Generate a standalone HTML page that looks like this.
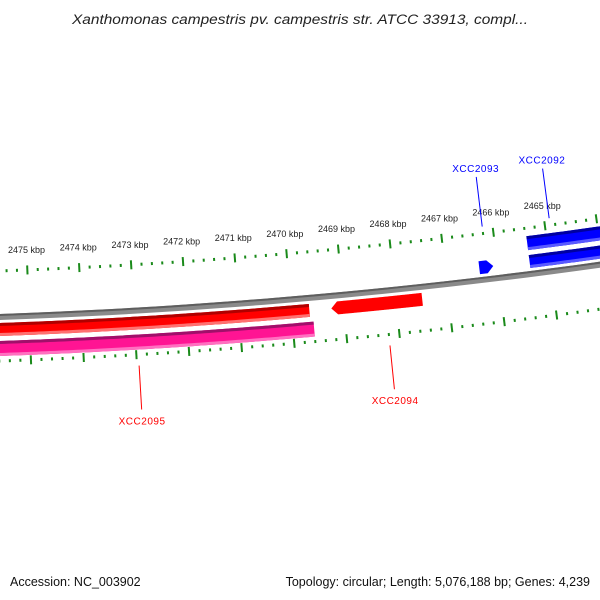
<!DOCTYPE html>
<html><head><meta charset="utf-8"><style>
html,body{margin:0;padding:0;background:#fff;overflow:hidden;}
svg{display:block;font-family:"Liberation Sans","DejaVu Sans",sans-serif;}
</style></head><body>
<svg id="map" width="600" height="600" viewBox="0 0 600 600">
<rect x="0" y="0" width="600" height="600" fill="#fff"/>
<text x="300" y="24" text-anchor="middle" font-size="13.5" font-style="italic" fill="#222" textLength="456" lengthAdjust="spacingAndGlyphs">Xanthomonas campestris pv. campestris str. ATCC 33913, compl...</text>
<g id="g-ticks"></g>
<g id="g-backbone"></g>
<g id="g-features"></g>
<g id="g-labels"></g>
<text x="10" y="586" font-size="12.5" fill="#111">Accession: NC_003902</text>
<text x="590" y="586" text-anchor="end" font-size="12.5" fill="#111">Topology: circular; Length: 5,076,188 bp; Genes: 4,239</text>
</svg>
<script>
// data (kbp)
const majorTicks = [2460,2461,2462,2463,2464,2465,2466,2467,2468,2469,2470,2471,2472,2473,2474,2475,2476,2477,2478];
const tickLabels = ["2465 kbp","2466 kbp","2467 kbp","2468 kbp","2469 kbp","2470 kbp","2471 kbp","2472 kbp","2473 kbp","2474 kbp","2475 kbp"];
const tickLabelPos = [2465,2466,2467,2468,2469,2470,2471,2472,2473,2474,2475];
const featNames = ["XCC2095","XCC2095b","XCC2094","XCC2093","XCC2092a","XCC2092b"];
const featStart = [2469.66,2469.60,2467.50,2466.08,2455.0,2455.0];
const featEnd = [2480.0,2480.0,2469.24,2466.35,2465.38,2465.38];
const featStrand = [-1,-1,-1,1,1,1];
const featTrack = [0,1,0,0,0,1];
const labelNames = ["XCC2095","XCC2094","XCC2093","XCC2092"];
const labelPos = [2472.96,2468.2,2466.2,2464.9];
const labelStrand = [-1,-1,1,1];

const NS="http://www.w3.org/2000/svg";
const CX=-202, R=5794, CY=320.5-R;
function theta(k){return 0.03991+(2475-k)*0.00904;}
// d = offset from backbone, positive = up on screen
function pt(d,k){const t=theta(k);const rho=R-d;return [CX+rho*Math.sin(t), CY+rho*Math.cos(t)];}
function el(tag,attrs,parent){const e=document.createElementNS(NS,tag);for(const a in attrs)e.setAttribute(a,attrs[a]);parent.appendChild(e);return e;}
function arcPts(d,ka,kb){const n=120,out=[];for(let i=0;i<=n;i++){out.push(pt(d,ka+(kb-ka)*i/n));}return out;}
function poly(pts){return 'M'+pts.map(p=>p[0].toFixed(2)+','+p[1].toFixed(2)).join(' L')+' Z';}
function arcBand(k1,k2,d1,d2){return poly(arcPts(d2,k1,k2).concat(arcPts(d1,k2,k1)));}
const gT=document.getElementById('g-ticks'),gB=document.getElementById('g-backbone'),gF=document.getElementById('g-features'),gL=document.getElementById('g-labels');

// backbone
let bb=el('path',{d:arcBand(2440,2500,-3,3),fill:'#8a8a8a'},gB);


let bbt=el('path',{d:arcBand(2440,2500,1,3),fill:'#5e5e5e'},gB);



// ticks
const rings=[46,-44];
rings.forEach((rr)=>{
  for(let i=0;i<majorTicks.length;i++){
    for(let j=0;j<5;j++){
      const k=majorTicks[i]+j/5;
      const len=j===0?9:3;
      const a=pt(rr-len/2,k),b=pt(rr+len/2,k);
      const ln=el('line',{x1:a[0],y1:a[1],x2:b[0],y2:b[1],stroke:'#1a8a1a','stroke-width':2},gT);
      
      
    }
  }
});
tickLabels.forEach((s,i)=>{
  const q=pt(66,tickLabelPos[i]);
  const t=el('text',{x:q[0],y:q[1]+3,'text-anchor':'middle','font-size':'9',fill:'#222'},gT);
  t.textContent=s;
  
  
});

// features
const trackR={'1_0':[6,19],'1_1':[24,38],'-1_0':[-19,-6],'-1_1':[-39,-24]};
const colors={'-1_0':['#ff0000','#b00000','#ff7070'],'-1_1':['#ff1493','#a0106a','#ff70c0'],'1_0':['#0000ff','#0000a0','#5a5aff'],'1_1':['#0000ff','#0000a0','#5a5aff']};
featNames.forEach((n,i)=>{
  const key=featStrand[i]+'_'+featTrack[i];
  const [d1,d2]=trackR[key];const c=colors[key];
  const k1=featStart[i],k2=featEnd[i];
  const isArrow=(k2-k1)<8;
  const g=el('g',{},gF);
  
  
  let d;
  if(isArrow){
    const head=Math.min(0.12,(k2-k1)*0.5);
    const dm=(d1+d2)/2;
    if(featStrand[i]<0){
      const tip=pt(dm,k2);
      d=poly([tip].concat(arcPts(d2,k2-head,k1)).concat(arcPts(d1,k1,k2-head)));
    } else {
      const tip=pt(dm,k1);
      d=poly(arcPts(d2,k2,k1+head).concat([tip]).concat(arcPts(d1,k1+head,k2)));
    }
  } else d=arcBand(k1,k2,d1,d2);
  const m=el('path',{d:d,fill:c[0]},g);
  
  
  if(!isArrow){
    const top=el('path',{d:arcBand(k1,k2,d2-3,d2),fill:c[1]},g);
    
    
    const bot=el('path',{d:arcBand(k1,k2,d1,d1+3),fill:c[2]},g);
    
    
  }
});

// labels
labelNames.forEach((n,i)=>{
  const s=labelStrand[i];
  const col=s>0?'#0000ff':'#ff0000';
  const a=pt(s>0?53:-55,labelPos[i]),b=pt(s>0?103:-99,labelPos[i]);
  const ln=el('line',{x1:a[0],y1:a[1],x2:b[0],y2:b[1],stroke:col,'stroke-width':1},gL);
  
  
  const q=pt(s>0?108:-106,labelPos[i]);
  const t=el('text',{x:q[0],y:q[1]+(s>0?0:8),'text-anchor':'middle','font-size':'10',fill:col,'letter-spacing':'0.5'},gL);
  t.textContent=n;
  
  
});
</script>
</body></html>
